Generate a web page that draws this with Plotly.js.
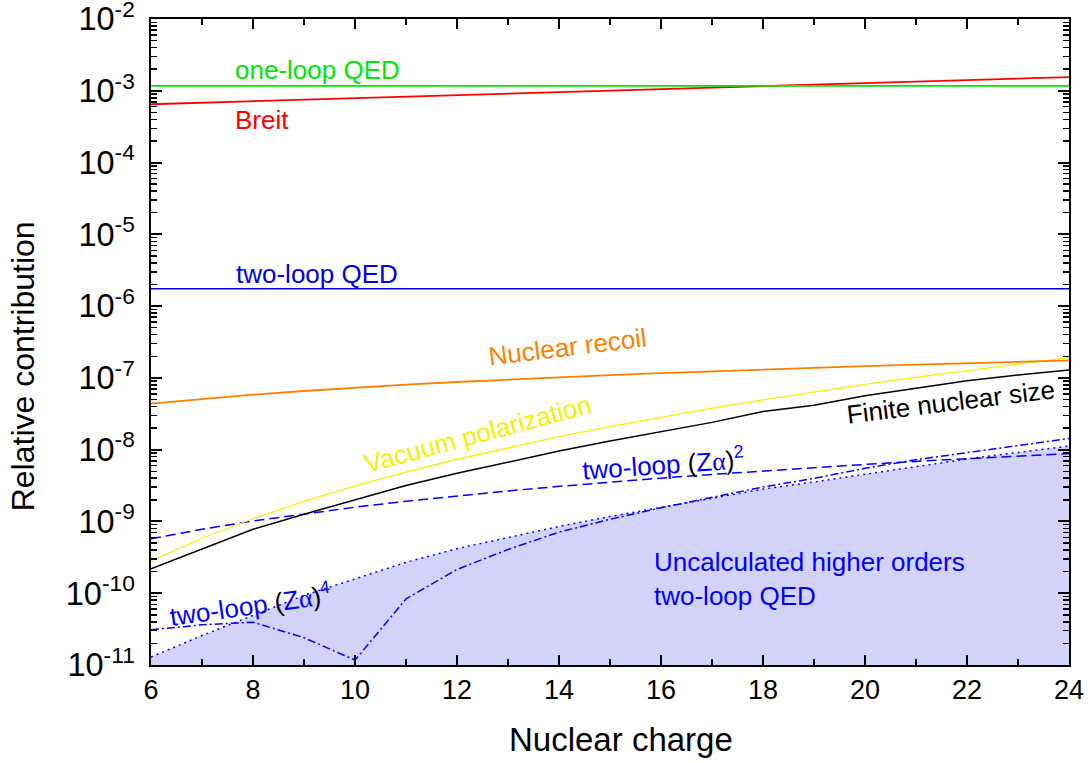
<!DOCTYPE html>
<html><head><meta charset="utf-8">
<script src="https://cdn.plot.ly/plotly-3.0.1.min.js"></script>
<style>html,body{margin:0;padding:0;background:#fff}</style>
</head><body>
<div id="chart" style="width:1091px;height:763px"></div>
<script>
// Nuclear charge Z
const Z = [6,7,8,9,10,11,12,13,14,15,16,17,18,19,20,21,22,23,24];
// relative contributions
const oneLoopQED = [1.17e-3,1.17e-3,1.17e-3,1.17e-3,1.17e-3,1.17e-3,1.17e-3,1.17e-3,1.17e-3,1.17e-3,1.17e-3,1.17e-3,1.17e-3,1.17e-3,1.17e-3,1.17e-3,1.17e-3,1.17e-3,1.17e-3];
const breit = [6.50e-4,6.82e-4,7.16e-4,7.52e-4,7.89e-4,8.28e-4,8.69e-4,9.12e-4,9.57e-4,1.005e-3,1.052e-3,1.104e-3,1.159e-3,1.216e-3,1.276e-3,1.34e-3,1.406e-3,1.476e-3,1.549e-3];
const twoLoopQED = [1.75e-6,1.75e-6,1.75e-6,1.75e-6,1.75e-6,1.75e-6,1.75e-6,1.75e-6,1.75e-6,1.75e-6,1.75e-6,1.75e-6,1.75e-6,1.75e-6,1.75e-6,1.75e-6,1.75e-6,1.75e-6,1.75e-6];
const nuclearRecoil = [4.38e-8,5.11e-8,5.84e-8,6.57e-8,7.30e-8,8.03e-8,8.76e-8,9.49e-8,1.022e-7,1.095e-7,1.168e-7,1.241e-7,1.314e-7,1.387e-7,1.46e-7,1.533e-7,1.606e-7,1.679e-7,1.752e-7];
const vacuumPol = [2.82e-10,5.83e-10,1.09e-9,1.90e-9,3.12e-9,4.88e-9,7.35e-9,1.07e-8,1.52e-8,2.09e-8,2.84e-8,3.78e-8,4.94e-8,6.37e-8,8.11e-8,1.02e-7,1.27e-7,1.56e-7,1.91e-7];
const finiteSize = [2.19e-10,4.17e-10,7.76e-10,1.26e-9,2.00e-9,3.16e-9,4.68e-9,6.76e-9,9.55e-9,1.32e-8,1.78e-8,2.40e-8,3.39e-8,4.17e-8,5.62e-8,7.24e-8,9.12e-8,1.10e-7,1.29e-7];
const twoLoopZa2 = [5.73e-10,7.79e-10,1.015e-9,1.28e-9,1.58e-9,1.91e-9,2.27e-9,2.66e-9,3.08e-9,3.53e-9,4.01e-9,4.52e-9,5.06e-9,5.63e-9,6.23e-9,6.86e-9,7.52e-9,8.21e-9,8.83e-9];
const twoLoopZa4 = [3.09e-11,3.63e-11,3.94e-11,2.40e-11,1.17e-11,8.32e-11,2.14e-10,4.07e-10,7.08e-10,1.07e-9,1.55e-9,2.14e-9,3.02e-9,3.98e-9,5.50e-9,7.24e-9,9.12e-9,1.15e-8,1.43e-8];
const higherOrders = [1.29e-11,2.57e-11,4.90e-11,9.33e-11,1.58e-10,2.69e-10,4.17e-10,6.03e-10,8.51e-10,1.17e-9,1.58e-9,2.09e-9,2.82e-9,3.55e-9,4.57e-9,5.89e-9,7.41e-9,9.12e-9,1.12e-8];

// tick labels
const xTickVals = [6,8,10,12,14,16,18,20,22,24];
const xTickText = ['6','8','10','12','14','16','18','20','22','24'];
const yDecades = [-11,-10,-9,-8,-7,-6,-5,-4,-3,-2];
const yTickText = ['10<sup>-11</sup>','10<sup>-10</sup>','10<sup>-9</sup>','10<sup>-8</sup>','10<sup>-7</sup>','10<sup>-6</sup>','10<sup>-5</sup>','10<sup>-4</sup>','10<sup>-3</sup>','10<sup>-2</sup>'];

// Plotly's own power-format labels mapped to the reference's labels
const yAlias = {};
yDecades.forEach((d, i) => { yAlias['10<sup>\u2212' + (-d) + '</sup>'] = yTickText[i]; });
const xAlias = {};
xTickVals.forEach((v, i) => { xAlias[String(v)] = xTickText[i]; });

const BLUE = '#0000ff';
const traces = [
  {x: Z, y: higherOrders, mode: 'lines', fill: 'tozeroy', fillcolor: '#d3d3fa',
   line: {color: BLUE, width: 1.5, dash: '2px,4px'}},
  {x: Z, y: twoLoopZa4, mode: 'lines', line: {color: BLUE, width: 1.5, dash: '8px,3px,2px,3px'}},
  {x: Z, y: twoLoopZa2, mode: 'lines', line: {color: BLUE, width: 1.5, dash: '10px,5px'}},
  {x: Z, y: finiteSize, mode: 'lines', line: {color: '#000000', width: 1.5}},
  {x: Z, y: vacuumPol, mode: 'lines', line: {color: '#f5f000', width: 1.3}},
  {x: Z, y: nuclearRecoil, mode: 'lines', line: {color: '#ff8000', width: 1.8}},
  {x: Z, y: twoLoopQED, mode: 'lines', line: {color: '#0000e0', width: 1.5}},
  {x: Z, y: breit, mode: 'lines', line: {color: '#ff0000', width: 1.8}},
  {x: Z, y: oneLoopQED, mode: 'lines', line: {color: '#00e600', width: 1.8}}
];

const LF = 26;
const serif = "font-family:'Liberation Serif','Times New Roman',serif";
const ann = (x, y, text, color, angle, extra) => Object.assign({
  x: x, y: y, xref: 'x', yref: 'y', text: text, showarrow: false,
  textangle: angle || 0, font: {size: LF, color: color}
}, extra || {});

const annotations = [
  ann(7.61, -2.71, 'one-loop QED', '#00e600', 0, {xanchor: 'left'}),
  ann(7.61, -3.407, 'Breit', '#ff0000', 0, {xanchor: 'left'}),
  ann(7.63, -5.552, 'two-loop QED', '#0000e0', 0, {xanchor: 'left'}),
  ann(14.16, -6.568, 'Nuclear recoil', '#ff8000', -7),
  ann(12.41, -7.78, 'Vacuum polarization', '#f5f000', -15),
  ann(21.69, -7.334, 'Finite nuclear size', '#000000', -7),
  ann(16.04, -8.198, 'two-loop <span style="color:#000">(</span>Z<span style="' + serif + '">α</span><span style="color:#000">)</span><sup>2</sup>', BLUE, -4),
  ann(7.94, -10.16, 'two-loop <span style="color:#000">(</span>Z<span style="' + serif + '">α</span><span style="color:#000">)</span><sup>4</sup>', BLUE, -8),
  ann(15.82, -9.80, 'Uncalculated higher orders<br>two-loop QED', BLUE, 0, {xanchor: 'left', align: 'left'}),
  {xref: 'paper', yref: 'paper', x: 0.512, y: -0.115, yanchor: 'middle', text: 'Nuclear charge', showarrow: false, font: {size: 33, color: '#000'}},
  {xref: 'paper', yref: 'paper', x: -0.139, y: 0.463, xanchor: 'center', yanchor: 'middle', text: 'Relative contribution', textangle: -90, showarrow: false, font: {size: 32, color: '#000'}}
];

const layout = {
  width: 1091, height: 763,
  margin: {l: 151, r: 22, t: 19, b: 98},
  paper_bgcolor: '#ffffff', plot_bgcolor: '#ffffff',
  font: {family: "'Liberation Sans', Arial, sans-serif", color: '#000'},
  showlegend: false,
  xaxis: {
    range: [6, 24], tickmode: 'linear', tick0: xTickVals[0], dtick: xTickVals[1] - xTickVals[0],
    labelalias: xAlias, ticklabeloverflow: 'allow',
    ticks: 'inside', ticklen: 10, tickwidth: 2, tickcolor: '#000',
    showline: true, linewidth: 2, linecolor: '#000', mirror: 'allticks',
    showgrid: false, zeroline: false, tickfont: {size: 27},
    minor: {dtick: 1, ticks: 'inside', ticklen: 6, tickwidth: 1.5, tickcolor: '#000', showgrid: false}
  },
  yaxis: {
    type: 'log', range: [-11.0004, -1.9996], tickmode: 'linear', tick0: 0, dtick: 1,
    exponentformat: 'power', showexponent: 'all', labelalias: yAlias, ticklabeloverflow: 'allow',
    ticks: 'inside', ticklen: 11, tickwidth: 2, tickcolor: '#000',
    showline: true, linewidth: 2, linecolor: '#000', mirror: 'allticks',
    showgrid: false, zeroline: false, tickfont: {size: 26}, ticklabelstandoff: 9,
    minor: {dtick: 'D1', ticks: 'inside', ticklen: 6, tickwidth: 1.5, tickcolor: '#000', showgrid: false}
  },
  annotations: annotations
};

Plotly.newPlot('chart', traces, layout, {displayModeBar: false, staticPlot: true});
</script>
</body></html>
